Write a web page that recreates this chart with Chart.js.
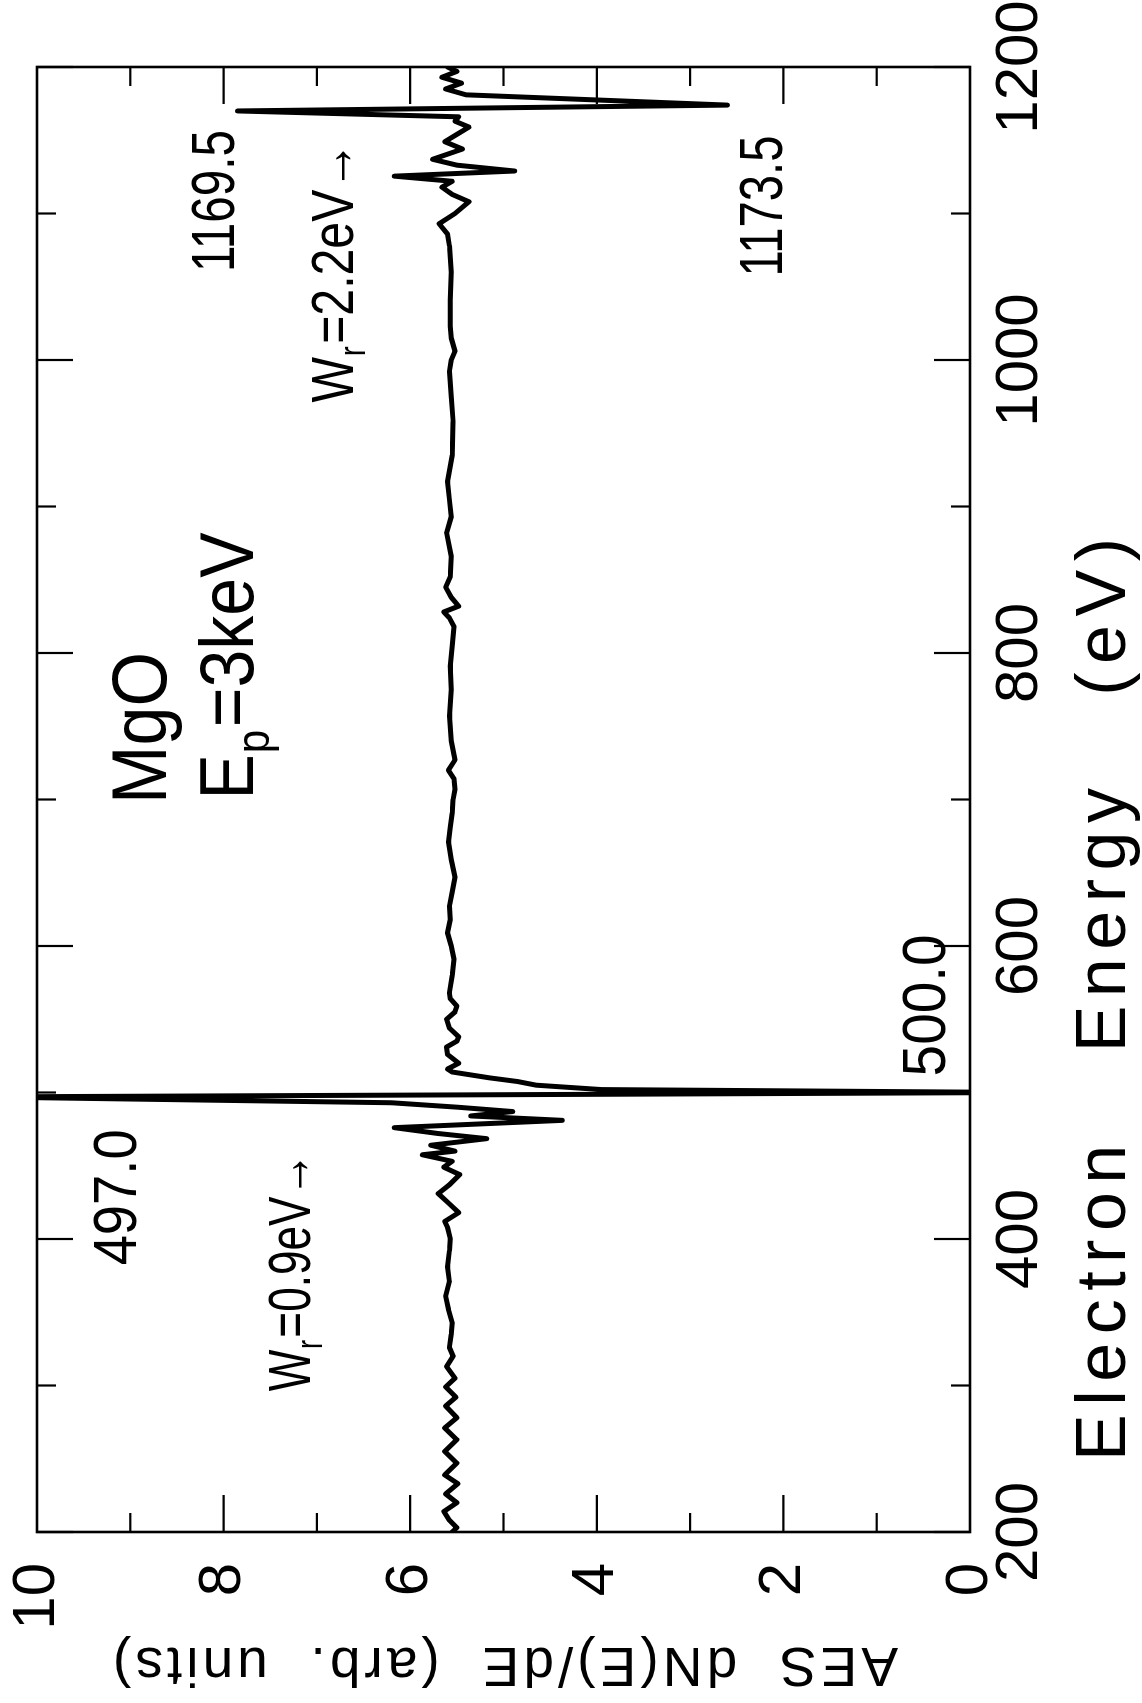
<!DOCTYPE html>
<html>
<head>
<meta charset="utf-8">
<script src="https://cdn.jsdelivr.net/npm/chart.js@4.4.0/dist/chart.umd.min.js"></script>
<style>
  html, body { margin: 0; padding: 0; background: #fff; overflow: hidden; width: 1142px; height: 1703px; }
  #wrap { position: absolute; left: 0; top: 0; width: 1703px; height: 1142px;
          transform-origin: 0 0; transform: translate(0, 1703px) rotate(-90deg); background: #fff; }
  canvas { display: block; }
</style>
</head>
<body>
<div id="wrap"><canvas id="c" width="1703" height="1142"></canvas></div>
<script>
// ---------------- data ----------------
const energy = [200,203,208,214,220,226,233,239,247,255,
  263,271,278,286,292,299,305,313,320,326,
  335,343,352,361,371,381,392,400,408,412,
  418,424,431,437,444,449,453,457.5,460,464,
  468.5,472,476,481,484,487,490,493,497,500,
  502,505,507.5,510,514,516,520,526,531,535,
  538,544,550,555,559,564,568,580,591,600,
  609,618,627,637,647,659,671,681,691,700,
  707,714,720,727,740,757,775,791,805,818,
  824,828,832,838,845,852,866,882,893,905,
  917,935,958,975,992,1000,1006,1015,1023,1041,
  1060,1078,1086,1093,1100,1108,1113,1118,1122,1125.5,
  1129,1133,1137,1144,1149,1154,1159,1163,1166,1170,
  1174,1181,1185,1189,1193,1197,1200];
const signal = [5.55,5.50,5.58,5.64,5.50,5.62,5.49,5.63,5.50,5.63,
  5.50,5.63,5.50,5.62,5.51,5.62,5.52,5.61,5.54,5.58,
  5.56,5.55,5.59,5.62,5.58,5.60,5.58,5.57,5.60,5.63,
  5.48,5.58,5.70,5.58,5.47,5.64,5.55,5.87,5.52,5.78,
  5.18,5.70,6.17,4.37,5.35,4.90,5.50,6.20,10.6,-0.6,
  3.95,4.65,4.85,5.15,5.55,5.60,5.48,5.60,5.61,5.50,
  5.48,5.58,5.61,5.52,5.50,5.57,5.58,5.55,5.53,5.56,
  5.60,5.57,5.58,5.55,5.52,5.56,5.59,5.57,5.55,5.54,
  5.52,5.53,5.59,5.52,5.56,5.58,5.56,5.57,5.55,5.53,
  5.58,5.64,5.48,5.56,5.62,5.57,5.56,5.61,5.56,5.58,
  5.60,5.55,5.54,5.56,5.58,5.56,5.52,5.56,5.57,5.57,
  5.56,5.58,5.60,5.69,5.52,5.37,5.55,5.66,5.55,6.17,
  4.88,5.50,5.76,5.44,5.63,5.50,5.37,5.52,5.48,7.85,
  2.60,5.40,5.62,5.45,5.66,5.50,5.60];

const energyTicks  = [200,300,400,500,600,700,800,900,1000,1100,1200];
const energyLabels = [200,400,600,800,1000,1200];
const valueTicks   = [0,1,2,3,4,5,6,7,8,9,10];
const valueLabels  = [0,2,4,6,8,10];
const xTitle = 'Electron   Energy   (eV)';
const yTitle = 'AES  dN(E)/dE  (arb.  units)';

// annotations: text anchored at (energy, value)
const notes = [
  {text:'MgO', e:697, v:8.62},
  {text:'E', sub:'p', rest:'=3keV', e:700, v:7.68},
  {text:'497.0', e:382, v:8.94},
  {text:'500.0', e:511, v:0.27},
  {text:'W', sub:'r', rest:'=0.9eV\u2192', e:296, v:7.07},
  {text:'W', sub:'r', rest:'=2.2eV\u2192', e:971, v:6.61},
  {text:'1169.5', e:1060, v:7.89},
  {text:'1173.5', e:1057, v:2.01}
];
// look of each annotation (font px, drawn width px), same order as notes
const noteLook = [[77,152],[76,267],[61,136],[61,142],[60,239],[60,261],[61,142],[61,141]];

// ---------------- fonts ----------------
const FAMILY = '"Liberation Sans", Arial, Helvetica, sans-serif';
const SIZE = { tick: 60, xt: 70, yt: 55 };
const titleFit = { x: { width: 923, shift: 71 }, y: { width: 785, shift: 0 } };

// ---------------- plugins ----------------
const titlePlugin = {
  id: 'titleFit',
  beforeDraw(chart) {
    for (const id of ['x', 'y']) {
      const s = chart.scales[id];
      if (!s || s.__wrapped) continue;
      const orig = s.drawTitle.bind(s);
      s.drawTitle = function () {
        const ctx = this.ctx;
        const t = this.options.title;
        ctx.save();
        ctx.font = t.font.size + 'px ' + FAMILY;
        if ('letterSpacing' in ctx) {
          ctx.letterSpacing = '0px';
          const w = ctx.measureText(t.text).width;
          const ls = (titleFit[id].width - w) / (t.text.length - 1);
          ctx.letterSpacing = Math.max(0, ls) + 'px';
        }
        ctx.translate(titleFit[id].shift, 0);
        orig();
        ctx.restore();
      };
      s.__wrapped = true;
    }
  }
};

const framePlugin = {
  id: 'frame',
  afterDatasetsDraw(chart) {
    const { ctx, chartArea: a, scales: { x, y } } = chart;
    ctx.save();
    ctx.strokeStyle = '#000';
    ctx.lineWidth = 2.6;
    ctx.strokeRect(a.left, a.top, a.right - a.left, a.bottom - a.top);
    ctx.lineWidth = 2.2;
    const seg = (x1, y1, x2, y2) => { ctx.beginPath(); ctx.moveTo(x1, y1); ctx.lineTo(x2, y2); ctx.stroke(); };
    for (const t of x.ticks) {
      const px = x.getPixelForValue(t.value);
      const len = energyLabels.includes(t.value) ? 36 : 19;
      seg(px, a.bottom, px, a.bottom - len);
      seg(px, a.top, px, a.top + len);
    }
    for (const t of y.ticks) {
      const py = y.getPixelForValue(t.value);
      const len = valueLabels.includes(t.value) ? 37 : 19;
      seg(a.left, py, a.left + len, py);
      seg(a.right, py, a.right - len, py);
    }
    // annotations
    ctx.fillStyle = '#000';
    ctx.textAlign = 'left';
    ctx.textBaseline = 'alphabetic';
    notes.forEach((n, i) => {
      const [size, target] = noteLook[i];
      const ss = size * 0.62;
      const big = size + 'px ' + FAMILY, small = ss + 'px ' + FAMILY;
      ctx.font = big;
      const w1 = ctx.measureText(n.text).width;
      const w3 = n.rest ? ctx.measureText(n.rest).width : 0;
      ctx.font = small;
      const w2 = n.sub ? ctx.measureText(n.sub).width + 4 : 0;
      const sx = target / (w1 + w2 + w3);
      ctx.save();
      ctx.translate(x.getPixelForValue(n.e), y.getPixelForValue(n.v));
      ctx.scale(sx, 1);
      ctx.font = big;
      ctx.fillText(n.text, 0, 0);
      let px = w1;
      if (n.sub) {
        ctx.font = small;
        ctx.fillText(n.sub, px + 1, size * 0.2);
        px += w2;
        ctx.font = big;
      }
      if (n.rest) ctx.fillText(n.rest, px, 0);
      ctx.restore();
    });
    ctx.restore();
  }
};

// ---------------- chart ----------------
const points = energy.map((e, i) => ({ x: e, y: signal[i] }));

new Chart(document.getElementById('c').getContext('2d'), {
  type: 'line',
  data: {
    datasets: [{
      data: points,
      borderColor: '#000',
      borderWidth: 5,
      pointRadius: 0,
      tension: 0,
      fill: false,
      clip: 0,
      borderJoinStyle: 'round',
      borderCapStyle: 'round'
    }]
  },
  options: {
    responsive: false,
    animation: false,
    devicePixelRatio: 1,
    layout: { padding: { left: 0, right: 67, top: 37, bottom: 0 } },
    plugins: { legend: { display: false }, tooltip: { enabled: false } },
    scales: {
      x: {
        type: 'linear', position: 'bottom', min: 200, max: 1200,
        afterBuildTicks: s => { s.ticks = energyTicks.map(v => ({ value: v })); },
        afterFit: s => { s.height = 172; s.paddingLeft = 0; s.paddingRight = 0; },
        grid: { display: false, drawTicks: false },
        border: { display: false },
        ticks: {
          autoSkip: false, maxRotation: 0, minRotation: 0,
          padding: 50 - SIZE.tick / 2, color: '#000',
          font: { family: FAMILY, size: SIZE.tick, lineHeight: 1 },
          callback: v => energyLabels.includes(v) ? String(v) : ''
        },
        title: {
          display: true, text: xTitle, align: 'start', color: '#000',
          font: { family: FAMILY, size: SIZE.xt, lineHeight: 1 },
          padding: { top: 0, bottom: 36 - SIZE.xt / 2 }
        }
      },
      y: {
        type: 'linear', position: 'left', min: 0, max: 10,
        afterBuildTicks: s => { s.ticks = valueTicks.map(v => ({ value: v })); },
        afterFit: s => { s.width = 171; s.paddingTop = 0; s.paddingBottom = 0; },
        grid: { display: false, drawTicks: false },
        border: { display: false },
        ticks: {
          autoSkip: false, padding: 31, color: '#000',
          font: { family: FAMILY, size: SIZE.tick, lineHeight: 1 },
          callback: v => valueLabels.includes(v) ? String(v) : ''
        },
        title: {
          display: true, text: yTitle, color: '#000',
          font: { family: FAMILY, size: SIZE.yt, lineHeight: 1 },
          padding: { top: 40 - SIZE.yt / 2, bottom: 0 }
        }
      }
    }
  },
  plugins: [titlePlugin, framePlugin]
});
</script>
</body>
</html>
